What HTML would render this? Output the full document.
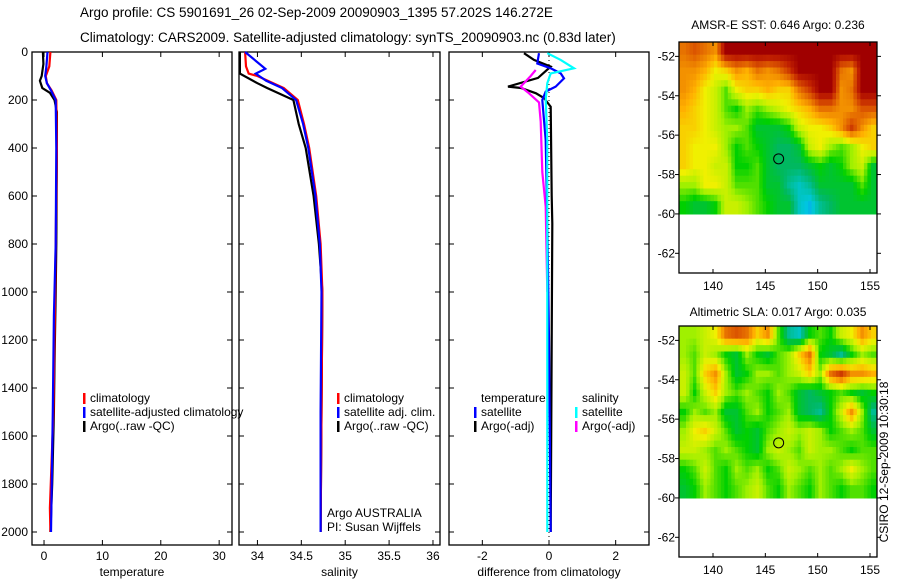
<!DOCTYPE html>
<html><head><meta charset="utf-8">
<style>
html,body{margin:0;padding:0;background:#fff;width:900px;height:580px;overflow:hidden}
svg{display:block;font-family:"Liberation Sans",sans-serif}
</style></head>
<body>
<svg id="fig" width="900" height="580" viewBox="0 0 900 580" xmlns="http://www.w3.org/2000/svg">
<text x="80" y="17" font-size="13.5">Argo profile: CS 5901691_26 02-Sep-2009 20090903_1395 57.202S 146.272E</text>
<text x="80" y="42" font-size="13.5">Climatology: CARS2009. Satellite-adjusted climatology: synTS_20090903.nc (0.83d later)</text>
<text x="778" y="29" font-size="12" text-anchor="middle">AMSR-E SST: 0.646 Argo: 0.236</text>
<text x="778" y="316" font-size="12" text-anchor="middle">Altimetric SLA: 0.017 Argo: 0.035</text>
<text x="0" y="0" font-size="12" text-anchor="middle" transform="translate(888,462) rotate(-90)">CSIRO 12-Sep-2009 10:30:18</text>
<g id="g"></g>
</svg>
<script>
// ---------- data ----------
const depthTicks=[0,200,400,600,800,1000,1200,1400,1600,1800,2000];
const tempTicks=[0,10,20,30];
const salTicks=[34,34.5,35,35.5,36];
const diffTicks=[-2,0,2];
const tempClimDepth=[0,60,100,130,160,200,400,800,1000,1500,1900,2000];
const tempClim=[1.1,0.9,0.3,0.5,1.3,2.1,2.2,2.0,1.9,1.6,1.0,1.1];
const tempSatDepth=[0,60,100,130,160,200,400,800,1100,1500,2000];
const tempSat=[0.6,0.4,0.2,0.5,1.2,2.0,2.1,2.0,1.7,1.5,1.2];
const tempArgoDepth=[0,50,100,120,150,170,200,250,400,800,1000,1300,1500,1800,2000];
const tempArgo=[-0.2,-0.1,-0.4,-0.7,-0.3,1.0,1.8,2.2,2.2,2.1,2.0,1.8,1.7,1.4,1.1];
const salClimDepth=[0,60,90,100,150,200,300,400,600,800,1000,1500,2000];
const salClim=[33.86,33.87,33.9,34.0,34.3,34.46,34.53,34.59,34.67,34.72,34.74,34.73,34.72];
const salSatDepth=[0,70,90,120,150,200,300,400,600,800,1000,1500,2000];
const salSat=[33.86,34.09,33.98,34.1,34.28,34.44,34.52,34.58,34.66,34.71,34.73,34.72,34.72];
const salArgoDepth=[0,90,130,150,200,300,400,600,800,1000,1500,2000];
const salArgo=[33.8,33.8,34.0,34.11,34.41,34.47,34.55,34.64,34.7,34.74,34.73,34.72];
const dTempSatDepth=[5,48,68,89,110,144,165,200,367,700,1200,2000];
const dTempSat=[-0.3,-0.35,0.05,0.35,0.45,0.2,-0.1,-0.2,-0.1,-0.05,0.0,0.05];
const dTempArgoDepth=[5,33,61,108,144,150,172,192,228,600,714,1200,2000];
const dTempArgo=[-0.75,-0.45,0.05,-0.33,-1.23,-0.84,-0.39,-0.15,0.05,0.08,0.1,0.08,0.05];
const dSalSatDepth=[5,33,68,89,130,200,367,800,2000];
const dSalSat=[-0.05,0.35,0.75,0.05,-0.05,-0.1,-0.05,-0.05,-0.05];
const dSalArgoDepth=[75,100,144,172,210,290,500,644,1000];
const dSalArgo=[-0.4,-0.55,-0.85,-0.6,-0.3,-0.25,-0.2,-0.1,-0.05];
const lonTicks=[140,145,150,155];
const latTicks=[-52,-54,-56,-58,-60,-62];
const sstGrid=[
[0.75,0.8,0.75,0.7,1,1,1,1,1,1,1,1,1,1,1,1,1,1,1],
[0.7,0.7,0.65,0.55,0.6,0.7,0.65,0.75,0.7,0.75,0.85,1,1,1,1,0.75,0.7,1,1],
[0.7,0.65,0.55,0.5,0.4,0.55,0.6,0.6,0.65,0.6,0.6,0.75,0.85,1,1,0.7,0.75,1,1],
[0.65,0.6,0.55,0.5,0.4,0.35,0.45,0.4,0.45,0.5,0.55,0.6,0.65,0.75,0.75,0.7,0.7,0.8,0.8],
[0.6,0.6,0.55,0.5,0.45,0.45,0.4,0.3,0.3,0.3,0.35,0.5,0.55,0.55,0.6,0.7,0.85,0.7,0.6],
[0.6,0.55,0.55,0.55,0.45,0.35,0.4,0.35,0.3,0.25,0.25,0.3,0.5,0.55,0.45,0.4,0.45,0.55,0.6],
[0.6,0.55,0.55,0.5,0.5,0.35,0.35,0.4,0.3,0.25,0.25,0.25,0.3,0.35,0.3,0.35,0.45,0.5,0.3],
[0.45,0.45,0.55,0.55,0.5,0.4,0.4,0.4,0.3,0.3,0.2,0.15,0.2,0.3,0.3,0.3,0.3,0.4,0.3],
[0.35,0.3,0.3,0.35,0.5,0.5,0.45,0.4,0.35,0.3,0.3,0.15,0.1,0.2,0.25,0.3,0.3,0.3,0.3]];
const slaGrid=[
[0.45,0.45,0.5,0.55,0.75,0.8,0.75,0.6,0.7,0.4,0.2,0.15,0.35,0.4,0.35,0.5,0.55,0.7,0.6],
[0.45,0.4,0.5,0.45,0.35,0.3,0.45,0.35,0.3,0.4,0.45,0.6,0.75,0.35,0.3,0.2,0.35,0.45,0.4],
[0.5,0.4,0.6,0.7,0.45,0.3,0.35,0.45,0.45,0.4,0.45,0.5,0.6,0.45,0.75,0.85,0.7,0.7,0.65],
[0.5,0.35,0.5,0.6,0.45,0.4,0.45,0.4,0.35,0.45,0.4,0.3,0.25,0.3,0.35,0.4,0.35,0.3,0.35],
[0.35,0.45,0.4,0.45,0.3,0.3,0.4,0.45,0.35,0.4,0.45,0.3,0.25,0.2,0.35,0.5,0.7,0.45,0.2],
[0.45,0.55,0.6,0.5,0.4,0.3,0.35,0.3,0.4,0.45,0.5,0.45,0.5,0.45,0.35,0.4,0.45,0.4,0.3],
[0.5,0.5,0.45,0.4,0.45,0.4,0.35,0.3,0.45,0.5,0.45,0.4,0.5,0.45,0.45,0.4,0.35,0.4,0.4],
[0.35,0.4,0.5,0.4,0.35,0.45,0.4,0.45,0.35,0.4,0.5,0.45,0.4,0.45,0.4,0.45,0.55,0.45,0.4],
[0.3,0.35,0.45,0.4,0.35,0.4,0.45,0.5,0.4,0.35,0.45,0.4,0.35,0.45,0.4,0.35,0.4,0.4,0.35]];
const gridLon0=136.75, gridLat0=-51.27, gridDLon=1.0, gridDLat=0.97;
const argoLon=146.272, argoLat=-57.202;

// ---------- drawing ----------
const NS="http://www.w3.org/2000/svg";
const G=document.getElementById('g');
function mk(tag,attrs,parent){const e=document.createElementNS(NS,tag);for(const k in attrs)e.setAttribute(k,attrs[k]);(parent||G).appendChild(e);return e;}
const top0=52, bot=545;
const yD=d=>top0+d*0.24;
function panel(name,x0,x1,xmin,xmax,ticks,label,fmt){
  const sx=v=>x0+(v-xmin)/(xmax-xmin)*(x1-x0);
  const box=mk('rect',{x:x0,y:top0,width:x1-x0,height:bot-top0,fill:'none',stroke:'#000','stroke-width':1.3});
  
  
  depthTicks.forEach(d=>{
    mk('line',{x1:x0,x2:x0+5,y1:yD(d),y2:yD(d),stroke:'#000'});
    mk('line',{x1:x1,x2:x1-5,y1:yD(d),y2:yD(d),stroke:'#000'});
  });
  ticks.forEach(v=>{
    mk('line',{x1:sx(v),x2:sx(v),y1:bot,y2:bot-5,stroke:'#000'});
    mk('line',{x1:sx(v),x2:sx(v),y1:top0,y2:top0+5,stroke:'#000'});
    const t=mk('text',{x:sx(v),y:bot+15,'font-size':12,'text-anchor':'middle'});
    
    
    t.textContent=fmt?fmt(v):String(v);
  });
  const xl=mk('text',{x:(x0+x1)/2,y:bot+31,'font-size':12,'text-anchor':'middle'});
  
  
  xl.textContent=label;
  return sx;
}
function line(name,sx,depths,vals,color,w){
  const pts=depths.map((d,i)=>sx(vals[i]).toFixed(1)+','+yD(d).toFixed(1)).join(' ');
  const p=mk('polyline',{points:pts,fill:'none',stroke:color,'stroke-width':w||2.2,'stroke-linejoin':'miter'});
  
  
}
function legendItem(name,x,y,color,text){
  if(color){mk('rect',{x:x,y:y-9,width:2.5,height:11,fill:color});}
  const t=mk('text',{x:x+7,y:y,'font-size':12});
  
  
  t.textContent=text;
}
depthTicks.forEach(d=>{
  const t=mk('text',{x:28,y:yD(d)+4,'font-size':12,'text-anchor':'end'});
  
  
  t.textContent=d;
});
const sT=panel('temperature',32,232,-2.06,32.2,tempTicks,'temperature');
line('temp-argo-line',sT,tempArgoDepth,tempArgo,'#000');
line('temp-climatology-line',sT,tempClimDepth,tempClim,'#f00');
line('temp-satellite-line',sT,tempSatDepth,tempSat,'#00f');
legendItem('legend-climatology',83,402,'#f00','climatology');
legendItem('legend-satellite-adjusted',83,416,'#00f','satellite-adjusted climatology');
legendItem('legend-argo',83,430,'#000','Argo(..raw -QC)');
const sS=panel('salinity',239,440,33.79,36.08,salTicks,'salinity');
line('sal-argo-line',sS,salArgoDepth,salArgo,'#000');
line('sal-climatology-line',sS,salClimDepth,salClim,'#f00');
line('sal-satellite-line',sS,salSatDepth,salSat,'#00f');
legendItem('legend-sal-climatology',337,402,'#f00','climatology');
legendItem('legend-sal-satellite',337,416,'#00f','satellite adj. clim.');
legendItem('legend-sal-argo',337,430,'#000','Argo(..raw -QC)');
legendItem('argo-australia-label',320,517,null,'Argo AUSTRALIA');
legendItem('pi-label',320,531,null,'PI: Susan Wijffels');
const sD=panel('difference',449,649,-3.0,3.0,diffTicks,'difference from climatology');
const zl=mk('line',{x1:sD(0),x2:sD(0),y1:top0,y2:bot,stroke:'#000','stroke-dasharray':'1,3'});


line('diff-temp-argo-line',sD,dTempArgoDepth,dTempArgo,'#000');
line('diff-sal-argo-line',sD,dSalArgoDepth,dSalArgo,'#f0f');
line('diff-temp-satellite-line',sD,dTempSatDepth,dTempSat,'#00f');
line('diff-sal-satellite-line',sD,dSalSatDepth,dSalSat,'#0ff');
legendItem('legend-temperature-header',474,402,null,'temperature');
legendItem('legend-diff-temp-satellite',474,416,'#00f','satellite');
legendItem('legend-diff-temp-argo',474,430,'#000','Argo(-adj)');
legendItem('legend-salinity-header',575,402,null,'salinity');
legendItem('legend-diff-sal-satellite',575,416,'#0ff','satellite');
legendItem('legend-diff-sal-argo',575,430,'#f0f','Argo(-adj)');

const stops=[[0,[16,96,255]],[0.12,[0,200,224]],[0.25,[0,184,96]],[0.35,[0,208,0]],[0.45,[160,240,0]],[0.55,[240,240,0]],[0.65,[255,176,0]],[0.78,[224,96,0]],[0.9,[192,32,0]],[1,[160,0,0]]];
function cmap(v){for(let i=1;i<stops.length;i++){if(v<=stops[i][0]){const a=stops[i-1],b=stops[i],t=(v-a[0])/(b[0]-a[0]);return 'rgb('+a[1].map((c,k)=>Math.round(c+(b[1][k]-c)*t)).join(',')+')';}}return 'rgb(160,0,0)';}
function sample(grid,fr,fc){
  const R=grid.length,C=grid[0].length;
  fr=Math.max(0,Math.min(R-1,fr));fc=Math.max(0,Math.min(C-1,fc));
  const r0=Math.floor(fr),c0=Math.floor(fc),r1=Math.min(R-1,r0+1),c1=Math.min(C-1,c0+1);
  const tr=fr-r0,tc=fc-c0;
  return (grid[r0][c0]*(1-tc)+grid[r0][c1]*tc)*(1-tr)+(grid[r1][c0]*(1-tc)+grid[r1][c1]*tc)*tr;
}
function map(name,grid,x0,y0){
  const lonMin=136.75,lonMax=155.67,latTop=-51.27,latBot=-63.0,w=198,h=231;
  const sx=lo=>x0+(lo-lonMin)/(lonMax-lonMin)*w;
  const sy=la=>y0+(latTop-la)/(latTop-latBot)*h;
  const S=3, R=grid.length, C=grid[0].length;
  for(let r=0;r<R*S;r++)for(let c=0;c<C*S;c++){
    const fr=(r+0.5)/S-0.5, fc=(c+0.5)/S-0.5;
    const v=sample(grid,fr,fc);
    const lo=gridLon0+c*gridDLon/S, la=gridLat0-r*gridDLat/S;
    const xa=sx(lo), xb=Math.min(sx(lo+gridDLon/S),x0+w), ya=sy(la), yb=sy(la-gridDLat/S);
    if(xa>=x0+w) continue;
    const cell=mk('rect',{x:xa.toFixed(1),y:ya.toFixed(1),width:(xb-xa+0.5).toFixed(1),height:(yb-ya+0.5).toFixed(1),fill:cmap(v)});
    
    
  }
  const box=mk('rect',{x:x0,y:y0,width:w,height:h,fill:'none',stroke:'#000','stroke-width':1.3});
  
  
  lonTicks.forEach(lo=>{
    mk('line',{x1:sx(lo),x2:sx(lo),y1:y0,y2:y0+4,stroke:'#000'});
    mk('line',{x1:sx(lo),x2:sx(lo),y1:y0+h,y2:y0+h-4,stroke:'#000'});
    const t=mk('text',{x:sx(lo),y:y0+h+17,'font-size':12,'text-anchor':'middle'});
    
    
    t.textContent=lo;
  });
  latTicks.forEach(la=>{
    mk('line',{x1:x0,x2:x0-4,y1:sy(la),y2:sy(la),stroke:'#000'});
    mk('line',{x1:x0+w,x2:x0+w+4,y1:sy(la),y2:sy(la),stroke:'#000'});
    const t=mk('text',{x:x0-4,y:sy(la)+4,'font-size':12,'text-anchor':'end'});
    
    
    t.textContent=la;
  });
  const c=mk('circle',{cx:sx(argoLon),cy:sy(argoLat),r:5,fill:'none',stroke:'#000','stroke-width':1});
  
  
}
map('sst-map',sstGrid,679,42);
map('sla-map',slaGrid,679,326);
</script>
</body></html>
